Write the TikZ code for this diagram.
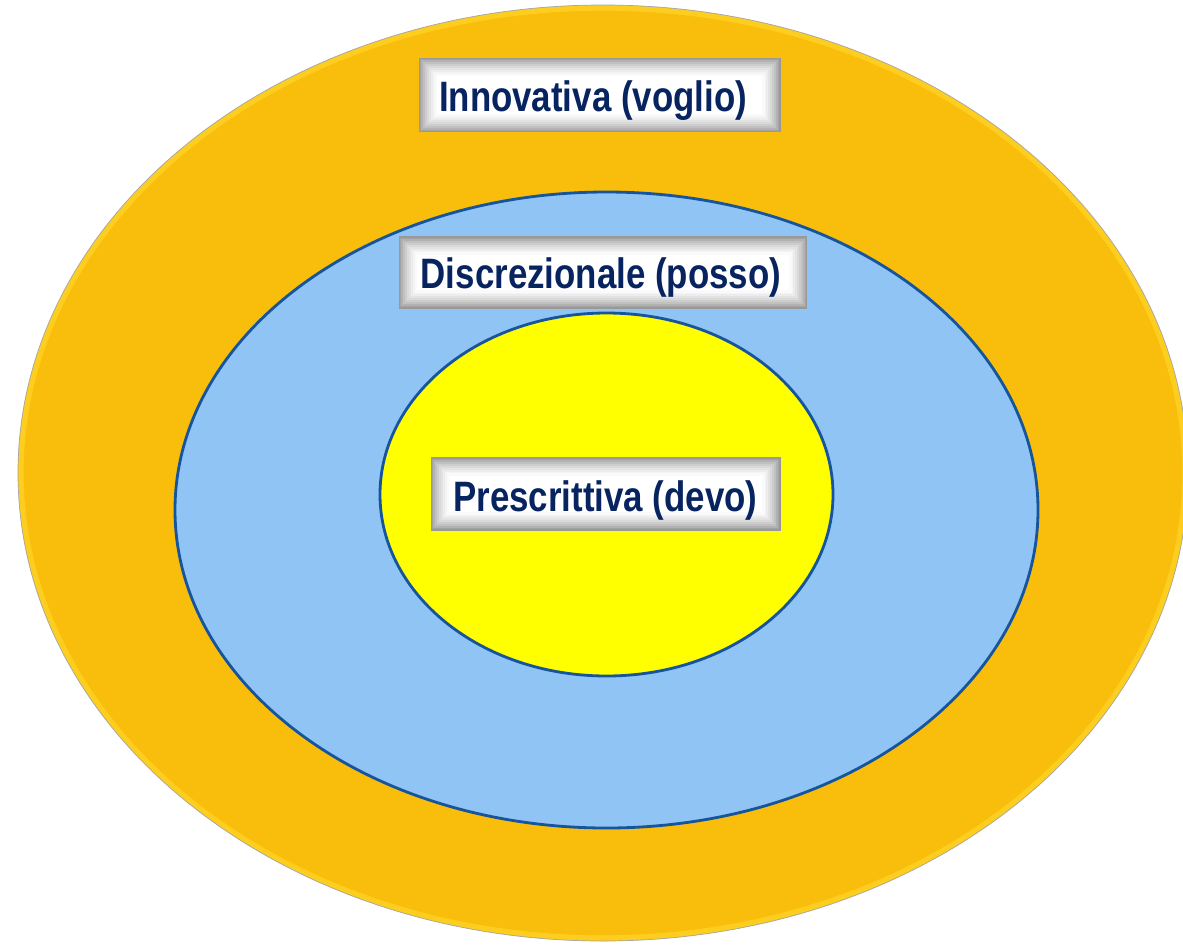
\documentclass[tikz,border=0pt]{standalone}
\usepackage{fontspec}
\setmainfont{Liberation Sans}[FakeStretch=0.82]
\definecolor{outerorange}{RGB}{249,190,11}
\definecolor{outerrim}{RGB}{255,214,40}
\definecolor{midblue}{RGB}{144,196,244}
\definecolor{ringblue}{RGB}{22,84,156}
\definecolor{innery}{RGB}{255,255,0}
\definecolor{navytext}{RGB}{8,36,96}
\tikzset{
  labelbox/.style={rectangle, fill=white, draw=gray!80, line width=0.6pt,
    inner sep=0pt, font=\bfseries\fontsize{24.2}{26}\selectfont, text=navytext,
    text height=0.67cm, text depth=0pt,
    path picture={
      \foreach \i/\c in {0/72,1/60,2/49,3/39,4/30,5/22,6/15,7/9,8/4}{
        \draw[gray!\c, line width=1.3pt]
          ([shift={(\i*1.1pt+0.65pt,-\i*1.1pt-0.65pt)}]path picture bounding box.north west)
          rectangle
          ([shift={(-\i*1.1pt-0.65pt,\i*1.1pt+0.65pt)}]path picture bounding box.south east);
      }
    }},
  ringline/.style={draw=ringblue, line width=1.6pt}
}
\begin{document}
\begin{tikzpicture}[x=0.02cm,y=-0.02cm]
\useasboundingbox (0,0) rectangle (1183,944);
\fill[white] (0,0) rectangle (1183,944);
% outer ellipse
\coordinate (co) at (603,473);
\fill[outerorange] (co) ellipse [x radius=585, y radius=468];
\draw[outerrim, line width=3pt, opacity=0.7] (co) ellipse [x radius=582, y radius=465];
\draw[black!35, line width=0.4pt] (co) ellipse [x radius=585, y radius=468];
% middle ellipse
\coordinate (cm) at (606.5,510);
\filldraw[fill=midblue, ringline] (cm) ellipse [x radius=431.5, y radius=318];
% inner ellipse
\coordinate (ci) at (606.5,494.5);
\filldraw[fill=innery, ringline] (ci) ellipse [x radius=226.5, y radius=181.5];
% labels
\node[labelbox, minimum width=7.22cm, minimum height=1.46cm] (inn) at (599.5,95)
  {\hspace{-0.26cm}Innovativa (voglio)};
\node[labelbox, minimum width=8.16cm, minimum height=1.42cm, text height=0.62cm] (dis) at (603,272.5)
  {\hspace{-0.08cm}Discrezionale (posso)};
\node[labelbox, minimum width=6.98cm, minimum height=1.44cm, text height=0.7cm] (pre) at (605.5,494)
  {Prescrittiva (devo)};
\end{tikzpicture}
\end{document}
